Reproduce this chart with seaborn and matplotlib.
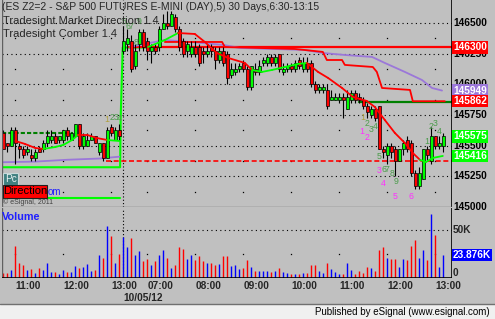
import matplotlib
matplotlib.use("Agg")
import matplotlib.pyplot as plt
import matplotlib.transforms as mtransforms
from matplotlib.patches import Rectangle
import numpy as np
import pandas as pd
import seaborn as sns

# ---------------- data ----------------
opens = [145600,145525,145500,145625,145500,145475,145450,145425,145400,145475,
         145475,145525,145550,145575,145550,145550,145625,145550,145575,145675,
         145500,145500,145550,145575,145450,145525,145400,145650,145550,145625,
         146275,146325,146350,146150,146325,146425,146350,146275,146300,146300,
         146450,146500,146475,146550,146450,146350,146275,146250,146300,146300,
         146275,146250,146300,146275,146200,146275,146250,146075,146100,146125,
         146175,146125,145975,146125,146100,146175,146175,146225,146175,146250,
         146100,146125,146150,146125,146200,146125,146175,146175,146000,145950,
         145950,145950,145875,145875,145875,145900,145800,145875,145925,145900,
         145875,145825,145750,145800,145825,145475,145425,145500,145475,145375,
         145475,145550,145525,145275,145175,145225,145475,145375,145575,145500,
         145500]
highs = [145625,145525,145650,145650,145525,145500,145500,145475,145475,145500,
         145550,145625,145625,145600,145575,145625,145650,145600,145675,145675,
         145600,145600,145600,145575,145525,145525,145650,145675,145650,145675,
         146475,146450,146400,146325,146450,146450,146375,146325,146325,146475,
         146575,146600,146600,146575,146475,146375,146350,146350,146350,146325,
         146300,146325,146325,146300,146300,146300,146275,146175,146175,146175,
         146200,146150,146150,146175,146200,146225,146250,146250,146250,146250,
         146175,146175,146175,146200,146225,146225,146225,146200,146025,146000,
         146000,146000,145950,145925,145925,145925,145950,145950,145950,145925,
         145900,145850,145825,145825,145825,145500,145525,145525,145500,145475,
         145550,145575,145550,145300,145325,145475,145500,145650,145575,145575,
         145600]
lows = [145475,145450,145500,145350,145400,145400,145425,145375,145375,145450,
        145450,145500,145525,145525,145525,145525,145550,145550,145575,145475,
        145475,145500,145550,145525,145425,145375,145400,145575,145550,145550,
        146250,146275,146100,146125,146275,146275,146200,146175,146250,146275,
        146450,146450,146475,146425,146275,146225,146225,146225,146225,146150,
        146175,146225,146225,146125,146175,146150,146000,146050,146075,146100,
        146100,145950,145950,146075,146075,146150,146150,146150,146150,146100,
        146075,146100,146100,146100,146125,146100,146100,145975,145925,145925,
        145925,145800,145875,145875,145850,145725,145800,145850,145850,145850,
        145800,145725,145725,145700,145475,145400,145350,145400,145250,145375,
        145425,145450,145250,145150,145150,145225,145375,145350,145475,145475,
        145450]
closes = [145475,145500,145625,145525,145475,145425,145475,145400,145450,145450,
          145525,145575,145575,145525,145575,145625,145575,145600,145675,145500,
          145575,145550,145575,145525,145525,145400,145625,145600,145625,145575,
          146350,146375,146125,146275,146425,146300,146275,146300,146275,146450,
          146500,146475,146575,146450,146300,146250,146325,146300,146250,146175,
          146250,146275,146275,146200,146275,146175,146050,146125,146125,146150,
          146125,145975,146150,146100,146150,146200,146225,146175,146225,146125,
          146125,146150,146125,146175,146150,146175,146125,146000,145950,145975,
          145975,145825,145900,145900,145900,145875,145900,145925,145875,145875,
          145825,145775,145800,145725,145475,145450,145500,145450,145375,145475,
          145525,145475,145275,145175,145275,145475,145425,145575,145500,145525,
          145575]
volume_k = [4.4,4.4,8.0,33.9,15.8,13.3,8.0,9.0,4.4,9.8,
            8.0,15.1,6.2,6.2,3.4,8.0,6.2,6.2,12.2,9.8,
            11.5,14.4,7.3,8.0,23.9,20.4,55.1,44.1,15.1,25.0,
            43.4,32.1,42.0,23.9,28.5,17.9,19.7,13.3,17.9,23.9,
            29.3,20.4,9.8,13.3,32.1,30.3,19.3,23.9,18.6,22.9,
            17.6,15.1,15.1,13.3,14.4,22.9,22.9,12.2,13.3,9.0,
            10.5,18.6,11.5,6.9,6.9,7.3,7.3,6.2,6.9,10.5,
            5.5,4.8,3.4,3.7,3.7,4.8,5.1,13.3,13.3,6.9,
            5.1,15.1,9.0,6.2,3.7,3.7,15.1,8.0,3.7,6.9,
            4.8,11.2,10.5,6.9,29.3,32.8,20.4,19.3,19.3,11.5,
            19.3,18.6,33.5,39.9,21.1,29.3,18.6,67.6,45.2,10.8,
            23.876]

tick_index = [3, 15, 27, 36, 48, 60, 72, 84, 96, 108]
tick_labels = ["11:00", "12:00", "13:00", "07:00", "08:00", "09:00",
               "10:00", "11:00", "12:00", "13:00"]
date_index = 30
date_label = "10/05/12"
price_grid = [146500, 146250, 146000, 145750, 145500, 145250]
price_axis_labels = [146500, 146250, 146000, 145750, 145500, 145250, 145000]
mid_grid = [146375, 146125, 145875, 145625, 145375, 145125]

# Market direction line (colour per segment: g = rising, r = falling)
md1_index = [3, 5.4, 8, 10, 13, 15, 17.2, 18.7, 21, 23.4, 26, 29]
md1_value = [145538, 145514, 145481, 145473, 145489, 145506, 145546, 145587,
             145587, 145562, 145546, 145538]
md1_color = ["r", "r", "r", "g", "g", "g", "g", "r", "r", "r", "g", "g"]
md2_index = [36.2, 40.4, 43.7, 47.9, 50.4, 53.4, 56.2, 60.4, 62.2, 64.7, 67.2,
             70.4, 73.7, 75.9, 78.7, 81.2, 84.7, 87.4, 90.9, 92.9, 95.4, 97.9,
             100.4, 102.4, 104.2, 105.7, 107.4, 109.9]
md2_value = [146304, 146361, 146418, 146410, 146345, 146255, 146215, 146174,
             146117, 146101, 146117, 146141, 146166, 146174, 146101, 146052,
             145970, 145897, 145864, 145815, 145709, 145604, 145522, 145440,
             145384, 145367, 145400, 145416]
md2_color = ["g", "g", "r", "r", "r", "r", "r", "r", "g", "g", "g", "g", "g",
             "r", "r", "r", "r", "r", "r", "r", "r", "r", "r", "r", "g", "g",
             "g", "g"]
# slow average (purple)
slow1_index = [0, 8, 16, 24, 29]
slow1_value = [145365, 145370, 145385, 145395, 145410]
slow2_index = [31.7, 34.2, 40.4, 46.7, 55, 59.2, 75.4, 79.9, 85.4, 92.2, 95.4,
               100.4, 104.7, 107.2, 109.7]
slow2_value = [146304, 146321, 146361, 146345, 146321, 146296, 146280, 146255,
               146239, 146223, 146174, 146101, 146035, 145970, 145949]
# stepped band (red)
band_index = [40.4, 54.7, 55.4, 72.9, 79.9, 80.9, 84.7, 85.4, 92.4, 93.4,
              94.7, 101.7, 102.4, 110.4]
band_value = [146345, 146345, 146304, 146288, 146264, 146198, 146198, 146158,
              146141, 146101, 145970, 145954, 145862, 145862]
# support line (bright green)
support_index = [-0.3, 29.2, 29.35, 29.85, 38.7]
support_value = [145324, 145324, 145730, 146300, 146300]
low_line_index = [-0.3, 29.2]
low_line_value = [145074, 145074]
prior_high_index = [-0.3, 17.4]
prior_high_value = [145601, 145601]
pivot_red_index = [25.7, 112.2]
pivot_red_value = [145375, 145375]
resist_index = [31.5, 112.2]
resist_value = [146300, 146300]
target_index = [89, 112.2]
target_value = [145856, 145856]

# Count labels (text, bar index, price, colour key)
count_text = ["1", "2", "3", "4", "5", "6", "7", "8", "9",
              "1", "2", "3", "4", "1", "2", "5", "3", "6", "7", "8", "4", "9", "5", "6",
              "1", "2", "3", "4"]
count_index = [25.9, 27.1, 28.1, 29.0, 30.2, 31.2, 32.0, 33.1, 33.9,
               89.9, 90.9, 91.9, 92.9, 89.7, 90.9, 93.9, 93.9, 95.2, 95.9, 97.2, 94.9,
               98.2, 97.9, 101.9, 105.9, 106.9, 107.9, 108.9]
count_price = [145710, 145726, 145726, 145718, 146508, 146467, 146467, 146337, 146508,
               145726, 145677, 145628, 145652, 145612, 145563, 145408, 145294, 145302,
               145302, 145269, 145188, 145204, 145082, 145082, 145530, 145652, 145677,
               145612]
count_kind = ["o", "s", "s", "s", "s", "s", "s", "s", "s",
              "o", "s", "s", "s", "m", "m", "s", "m", "s", "s", "s", "m", "s", "m", "m",
              "s", "s", "s", "s"]

last_labels = [("146300", 146300, "#ff0000"), ("145949", 145949, "#9b77d9"),
               ("145862", 145862, "#ff0000"), ("145575", 145575, "#00ff00"),
               ("145416", 145416, "#00ff00")]

# ---------------- figure ----------------
sns.set_theme(style="white")
plt.rcParams["font.family"] = ["Liberation Sans", "DejaVu Sans"]

W, H = 495, 319
BG = "#c0c0c0"
fig = plt.figure(figsize=(W / 100, H / 100), dpi=100)
fig.patch.set_facecolor(BG)


def fx(x):
    return x / W


def fy(y):
    return 1 - y / H


ax = fig.add_axes([fx(2), fy(207), fx(452) - fx(2), fy(0) - fy(207)])
axv = fig.add_axes([fx(2), fy(277.5), fx(452) - fx(2), fy(208) - fy(277.5)])
XMIN, XMAX = -0.33, 112.2
for a in (ax, axv):
    a.set_facecolor(BG)
    a.set_xlim(XMIN, XMAX)
    for s in a.spines.values():
        s.set_visible(False)
ax.set_ylim(145000, 146687)
axv.set_ylim(0, 73900)
ax.set_xticks([])
ax.set_yticks([])
axv.set_yticks([])

# grid
dot = (0, (1, 3))
for p in price_grid:
    ax.axhline(p, color="black", lw=0.8, ls=dot, zorder=1)
axv.axhline(50000, color="black", lw=0.8, ls=dot, zorder=1)
gx, gy = np.meshgrid(tick_index, mid_grid)
ax.plot(gx.ravel(), gy.ravel(), ls="none", marker="s", ms=0.9, mew=0, color="black", zorder=1)
axv.plot(tick_index, [25000] * len(tick_index), ls="none", marker="s", ms=0.9, mew=0,
         color="black", zorder=1)
for a in (ax, axv):
    a.axvline(date_index, color="black", lw=0.8, ls=(0, (1, 2)), zorder=1)

# borders
ax.axvline(XMAX, color="black", lw=1.2, zorder=9)
axv.axvline(XMAX, color="black", lw=1.2, zorder=9)
ax.axvline(XMIN, color="#606060", lw=1.0, zorder=9)
axv.axvline(XMIN, color="#606060", lw=1.0, zorder=9)
axv.axhline(0, color="black", lw=1.2, zorder=9)
ax.axhline(145000, color="#707070", lw=1.0, zorder=9)

df = pd.DataFrame({"i": np.arange(len(opens)), "o": opens, "h": highs, "l": lows,
                   "c": closes, "v": np.array(volume_k) * 1000})
df["up"] = df["c"] >= df["o"]


def sline(a, xs, ys, color, lw, ls="-", z=4):
    sns.lineplot(x=xs, y=ys, ax=a, color=color, lw=lw, ls=ls, estimator=None,
                 sort=False, zorder=z, legend=False)


sline(ax, low_line_index, low_line_value, "#00ff00", 1.5)
sline(ax, support_index, support_value, "#00ff00", 1.5)
sline(ax, prior_high_index, prior_high_value, "#008000", 1.5, (0, (2, 1)))
sline(ax, pivot_red_index, pivot_red_value, "#ff0000", 1.2, (0, (3, 1.6)))
sline(ax, resist_index, resist_value, "#ff0000", 1.6)
sline(ax, target_index, target_value, "#008000", 1.6)
sline(ax, slow1_index, slow1_value, "#9b77d9", 1.3)
sline(ax, slow2_index, slow2_value, "#9b77d9", 1.3)
sline(ax, band_index, band_value, "#ff0000", 1.3)

# candles
ax.vlines(df["i"], df["l"], df["h"], colors="black", lw=0.8, zorder=5)
body_h = (df["c"] - df["o"]).abs().clip(lower=6)
body_b = df[["o", "c"]].min(axis=1)
ax.bar(df["i"], body_h, bottom=body_b, width=0.72,
       color=np.where(df["up"], "#00ff00", "#ff0000"), edgecolor="black",
       linewidth=0.5, zorder=6)

# market direction line on top
cmap = {"g": "#00ff00", "r": "#ff0000"}
for xs, ys, cs in ((md1_index, md1_value, md1_color), (md2_index, md2_value, md2_color)):
    for k in range(len(xs) - 1):
        sline(ax, xs[k:k + 2], ys[k:k + 2], cmap[cs[k]], 1.3, z=7)

# volume
axv.vlines(df["i"], 0, df["v"], colors=np.where(df["up"], "#0000ff", "#ff0000"),
           lw=1.0, zorder=3)

# count labels
kcol = {"o": "#b0a040", "s": "#4c9c4c", "m": "#ff30ff"}
for t, xi, p, k in zip(count_text, count_index, count_price, count_kind):
    ax.text(xi, p, t, color=kcol[k], fontsize=6.3, ha="center", va="center", zorder=8)

# right side labels
tp = mtransforms.blended_transform_factory(ax.transAxes, ax.transData)
for p in price_axis_labels:
    ax.text(1.0022, p, str(p), transform=tp, ha="left", va="center", fontsize=7.3,
            fontweight="bold", color="black", clip_on=False, zorder=10)
for txt, p, c in last_labels:
    ax.text(1.0022, p, txt, transform=tp, ha="left", va="center", fontsize=7.3,
            fontweight="bold", color="white", clip_on=False, zorder=11,
            bbox=dict(boxstyle="square,pad=0.12", fc=c, ec="none"))
tv = mtransforms.blended_transform_factory(axv.transAxes, axv.transData)
axv.text(1.0022, 50000, "50K", transform=tv, ha="left", va="center", fontsize=7.3,
         fontweight="bold", clip_on=False)
axv.text(1.0022, 0, "0", transform=tv, ha="left", va="bottom", fontsize=7.3,
         fontweight="bold", clip_on=False)
axv.text(1.0022, volume_k[-1] * 1000, f"{volume_k[-1]:.3f}K", transform=tv, ha="left",
         va="center", fontsize=7.3, fontweight="bold", color="white", clip_on=False,
         bbox=dict(boxstyle="square,pad=0.12", fc="#0000ff", ec="none"), zorder=11)

# time axis
axv.set_xticks(tick_index)
axv.set_xticklabels(tick_labels, fontsize=7.3, fontweight="bold", ha="left")
axv.tick_params(axis="x", length=0, pad=2.5)
td = mtransforms.blended_transform_factory(axv.transData, fig.transFigure)
axv.text(date_index, fy(298), date_label, transform=td, ha="left", va="center",
         fontsize=7.3, fontweight="bold", clip_on=False)

# titles inside the chart
fig.text(fx(2), fy(7.5), "(ES Z2=2 - S&P 500 FUTURES E-MINI (DAY),5) 30 Days,6:30-13:15",
         fontsize=7.5, ha="left", va="center", zorder=12)
fig.text(fx(3), fy(21), "Tradesight Market Direction 1.4", fontsize=8, ha="left",
         va="center", zorder=12)
fig.text(fx(3), fy(34), "Tradesight Comber 1.4", fontsize=8, ha="left", va="center",
         zorder=12)
fig.text(fx(2), fy(217), "Volume", fontsize=7.8, fontweight="bold", color="#2020ff",
         ha="left", va="center")

# buttons bottom-left
fig.patches.append(Rectangle((fx(3), fy(185)), fx(15), fy(173) - fy(185),
                             transform=fig.transFigure, fc="#3f8080", ec="#c8d8d8",
                             lw=0.8, zorder=12))
fig.text(fx(10.5), fy(179), "Pc", fontsize=7.3, color="#e8f0f0", ha="center",
         va="center", zorder=13)
fig.text(fx(48), fy(192), "om", fontsize=7, color="#2020ff", ha="left", va="center",
         zorder=12)
fig.patches.append(Rectangle((fx(3), fy(198)), fx(44), fy(185) - fy(198),
                             transform=fig.transFigure, fc="#ff0000", ec="#202020",
                             lw=0.8, zorder=12))
fig.text(fx(25), fy(191.5), "Direction", fontsize=8, color="black", ha="center",
         va="center", zorder=13)
fig.text(fx(3), fy(202.5), "\u00a9 eSignal, 2011", fontsize=5, color="#404040",
         ha="left", va="center", zorder=12)

# footer
fig.patches.append(Rectangle((0, 0), 1, fy(304), transform=fig.transFigure,
                             fc="#f0f0f0", ec="none", zorder=0))
fig.lines.append(plt.Line2D([0, 1], [fy(304), fy(304)], transform=fig.transFigure,
                            color="#707070", lw=1.0))
fig.text(fx(490), fy(312), "Published by eSignal (www.esignal.com)", fontsize=7,
         ha="right", va="center", color="black")

fig.savefig("out.png", dpi=100, facecolor=BG)
